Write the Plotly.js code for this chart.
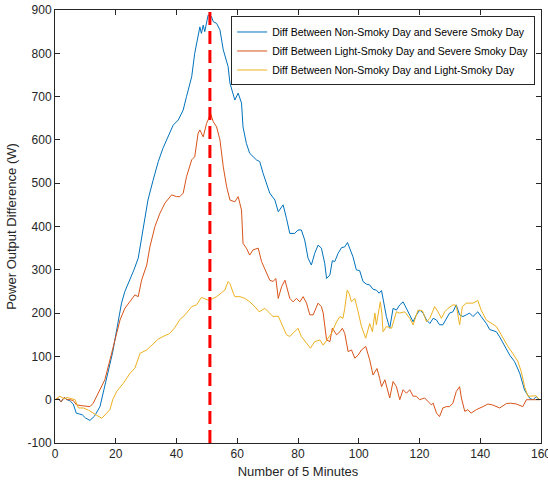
<!DOCTYPE html>
<html>
<head>
<meta charset="utf-8">
<script src="https://cdn.plot.ly/plotly-3.0.1.min.js"></script>
<style>html,body{margin:0;padding:0;background:#fff;}#chart{width:548px;height:484px;}</style>
</head>
<body>
<div id="chart"></div>
<script>
// Diff Between Non-Smoky Day and Severe Smoky Day
const blueX = [0,1,2,3,4,5,6,7,8,9,10,11.5,13,14.8,16,17.5,19,20.3,21.9,23,24.7,26,27.4,28.5,29.5,30.6,32.3,34,35.5,36.7,37.8,38.9,40.6,41.1,42.2,43.3,45,46,46.6,47.7,48.2,48.8,49.3,49.9,50.4,51.5,52.1,53.2,54.3,55.4,57,57.6,59.2,60.3,61.4,61.9,63,64.1,66.3,67.4,68.5,70.7,72.4,73.5,75.1,76.2,77.3,78.9,80,81.1,82.2,83.3,84.4,85.5,86.6,87.7,88.8,89.4,90.5,91.3,92.1,93.2,94.3,95.4,96.3,97,98.1,99.2,100.3,101.4,102.5,103.6,104.7,105.8,106.7,107.5,108,109.1,110.2,111.3,112.4,113.5,114.6,115.7,116.8,117.9,118.9,120.1,121.2,122.3,123.4,124.5,125.6,126.6,127.7,128.8,129.9,131,132.1,133.2,134.3,135.4,136.5,137.6,138.7,139.2,140.3,142,143.1,145.3,146.4,148,149.7,151.3,153,154.6,156.3,157.4,158.4,159.5];
const blueY = [0,2,-5,5,0,-3,-10,-31,-33,-35,-42,-48,-38,-16,20,62,110,161,223,250,276,300,327,376,410,461,507,550,580,600,619,634,646,654,669,700,746,800,823,861,846,865,850,869,888,885,873,869,854,808,769,731,692,708,685,630,592,569,554,550,523,477,461,434,450,419,384,384,392,392,369,327,311,338,357,350,315,280,288,321,319,338,351,353,363,350,330,300,298,273,267,265,255,253,246,252,230,192,165,211,207,219,226,211,196,180,195,207,200,184,176,188,184,173,173,188,200,203,219,196,192,196,200,192,200,203,192,176,162,157,145,126,103,88,61,22,3,0,7,0];

// Diff Between Light-Smoky Day and Severe Smoky Day
const orangeX = [0,1,2,3,4,5,6,7.1,9,11.5,12.6,14.8,16.4,18.1,19.7,21.4,23,25.2,26.3,27.4,28.5,30.2,31.25,32.9,34.5,36.2,37.3,38.4,40,41.1,42.2,43.3,45,46,47.1,47.7,48.8,49.3,49.9,50.4,51.2,52.1,53.2,54.3,55.4,56.5,57.6,59.2,60.3,61.4,61.9,63,64.1,65.2,66.9,68,69.1,70.7,71.8,72.7,73.5,74.6,75.7,76.7,77.3,78.4,79.5,80.6,81.7,82.8,83.9,85,86.6,87.7,88.3,89.4,90.5,91.3,92.7,93.8,94.6,95.4,96.5,97.6,98.7,99.8,100.9,102.3,103.6,104.7,106,106.9,107.5,108.6,109.6,110.2,111.3,112.4,113.5,114.6,115.7,116.8,117.9,119,120,121.7,122.8,123.9,124.5,125.6,126.6,127.7,128.8,129.9,131,132.1,133.2,133.8,134.9,135.9,137,138.7,140.9,142.5,144,146.4,148.6,150,151.9,154,155.2,157,159.5];
const orangeY = [0,3,-5,5,0,0,-2,-12,-14,-16,-8,23,46,92,138,184,211,230,242,238,276,311,353,400,430,454,465,473,469,469,477,515,554,561,615,623,607,623,638,646,661,642,630,600,538,492,461,457,469,438,361,350,334,346,350,319,300,276,273,280,234,261,276,246,234,226,234,226,238,223,196,196,223,215,200,138,134,165,150,157,165,153,111,115,96,103,115,123,92,57,72,49,30,46,23,4,42,30,0,23,15,23,8,8,0,4,-4,-12,-8,-31,-39,-19,-16,-16,-8,19,30,4,-27,-23,-31,-23,-16,-10,-12,-19,-9,-8,-10,-16,0,0,0];

// Diff Between Non-Smoky Day and Light-Smoky Day
const yellowX = [0,1.6,3,4,6.6,7.7,9.3,11,12.6,14,15.4,17,18.1,19,20.3,22.5,24.7,26.3,28,30.2,32.3,34,35.6,37.3,37.8,39.5,41.1,42.8,45,46.6,48.2,49,50.4,51.5,53.2,54.8,55.9,57,57.6,58.7,59.2,60.9,62.5,64.1,65.8,67.2,69.1,70.2,71.8,73.5,75.1,76.2,77.3,78.9,80,81.1,82.8,84.1,85.5,87.2,88.3,89.4,91,92.7,93.8,94.8,95.4,96.2,96.8,97.6,98.7,99.8,100.9,102.3,103.6,104.5,105.3,105.8,106.4,107.1,107.6,108,109.1,110.8,112.4,113.5,115.1,116.8,117.9,119.5,121,122.3,123.4,125,126.1,127.2,128.3,129.4,131,132.1,133.2,134.1,135.4,137.6,139.2,140.3,142,143.6,145.3,146.9,149.1,150.7,152.4,153.5,154.6,155.7,157,158.4,159.5];
const yellowY = [0,8,2,5,0,-19,-19,-24,-31,-38,-43,-31,-23,0,19,38,61,73,107,115,130,140,146,150,153,167,185,196,215,219,236,234,230,232,238,247,253,273,268,246,238,238,234,226,215,203,211,203,192,193,169,150,146,157,165,146,130,119,134,138,126,138,153,180,192,188,211,253,246,226,234,203,169,142,176,157,200,173,195,226,200,157,169,165,203,200,203,188,173,207,205,180,188,215,203,188,203,211,219,218,173,215,223,223,229,207,184,176,169,150,123,107,88,65,30,8,8,9,0];

// Marker line position and range
const markX = [51, 51];
const markY = [-100, 900];

const seriesNames = [
  'Diff Between Non-Smoky Day and Severe Smoky Day',
  'Diff Between Light-Smoky Day and Severe Smoky Day',
  'Diff Between Non-Smoky Day and Light-Smoky Day'
];
const xTicks = [0,20,40,60,80,100,120,140,160];
const yTicks = [-100,0,100,200,300,400,500,600,700,800,900];

const traces = [
  {x: blueX, y: blueY, name: seriesNames[0], type: 'scatter', mode: 'lines', line: {color: '#0072BD', width: 1}},
  {x: orangeX, y: orangeY, name: seriesNames[1], type: 'scatter', mode: 'lines', line: {color: '#D95319', width: 1}},
  {x: yellowX, y: yellowY, name: seriesNames[2], type: 'scatter', mode: 'lines', line: {color: '#EDB120', width: 1}},
  {x: markX, y: markY, type: 'scatter', mode: 'lines', showlegend: false, hoverinfo: 'skip', line: {color: '#FF0000', width: 3, dash: '13px,6px'}}
];

const axisCommon = {
  showgrid: false, zeroline: false, showline: true, mirror: 'ticks',
  linecolor: '#262626', linewidth: 1, ticks: 'inside', ticklen: 5, tickcolor: '#262626',
  ticklabeloverflow: 'allow',
  tickfont: {family: 'Liberation Sans, Arial, sans-serif', size: 12, color: '#262626'}
};

const layout = {
  width: 548, height: 484,
  margin: {l: 55, r: 7, t: 10, b: 41},
  paper_bgcolor: '#fff', plot_bgcolor: '#fff',
  font: {family: 'Liberation Sans, Arial, sans-serif', color: '#262626'},
  xaxis: Object.assign({}, axisCommon, {
    range: [0, 160], tickvals: xTicks, ticktext: xTicks.map(String),
    title: {text: 'Number of 5 Minutes', font: {size: 13, color: '#262626'}, standoff: 6}
  }),
  yaxis: Object.assign({}, axisCommon, {
    range: [-100, 900], tickvals: yTicks, ticktext: yTicks.map(String),
    title: {text: 'Power Output Difference (W)', font: {size: 13, color: '#262626'}, standoff: 8}
  }),
  legend: {
    x: 0.988, y: 0.985, xanchor: 'right', yanchor: 'top',
    bgcolor: '#fff', bordercolor: '#262626', borderwidth: 1,
    font: {family: 'Liberation Sans, Arial, sans-serif', size: 10.5, color: '#000'},
    tracegroupgap: 0
  },
  showlegend: true
};

Plotly.newPlot('chart', traces, layout, {displayModeBar: false, staticPlot: true});
</script>
</body>
</html>
